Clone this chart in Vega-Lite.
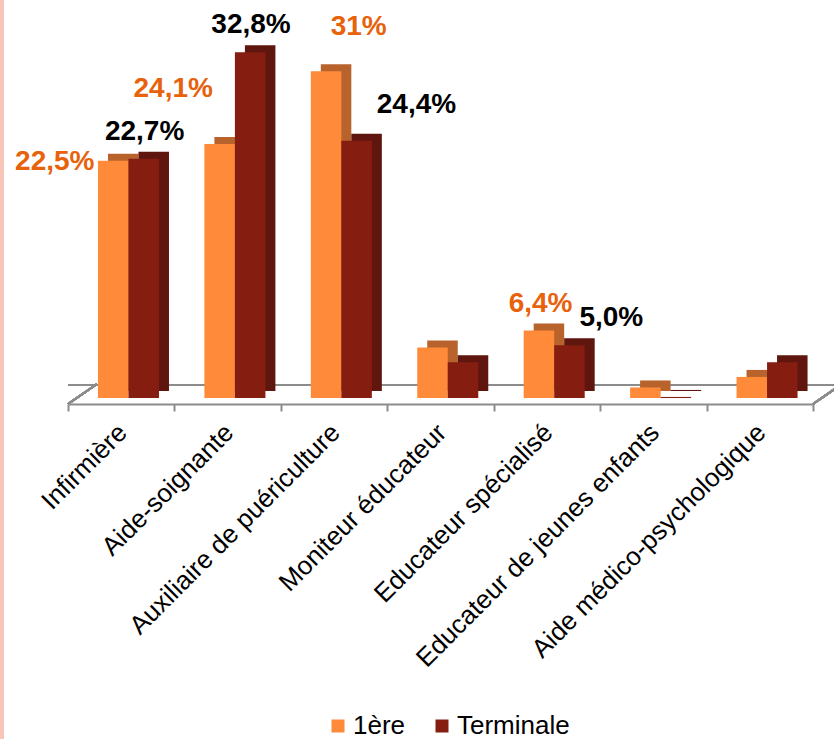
{
  "$schema": "https://vega.github.io/schema/vega-lite/v6.json",
  "autosize": "none",
  "width": 745,
  "height": 369,
  "padding": {"left": 68, "top": 29, "right": 21, "bottom": 341},
  "background": "white",
  "config": {"view": {"stroke": null}, "font": "Liberation Sans"},
  "data": {"values": [
    {"cat": "Infirmière", "series": "1ère", "value": 22.5, "label": "22,5%"},
    {"cat": "Infirmière", "series": "Terminale", "value": 22.7, "label": "22,7%"},
    {"cat": "Aide-soignante", "series": "1ère", "value": 24.1, "label": "24,1%"},
    {"cat": "Aide-soignante", "series": "Terminale", "value": 32.8, "label": "32,8%"},
    {"cat": "Auxiliaire de puériculture", "series": "1ère", "value": 31.0, "label": "31%"},
    {"cat": "Auxiliaire de puériculture", "series": "Terminale", "value": 24.4, "label": "24,4%"},
    {"cat": "Moniteur éducateur", "series": "1ère", "value": 4.8, "label": ""},
    {"cat": "Moniteur éducateur", "series": "Terminale", "value": 3.4, "label": ""},
    {"cat": "Educateur spécialisé", "series": "1ère", "value": 6.4, "label": "6,4%"},
    {"cat": "Educateur spécialisé", "series": "Terminale", "value": 5.0, "label": "5,0%"},
    {"cat": "Educateur de jeunes enfants", "series": "1ère", "value": 1.0, "label": ""},
    {"cat": "Educateur de jeunes enfants", "series": "Terminale", "value": 0.1, "label": ""},
    {"cat": "Aide médico-psychologique", "series": "1ère", "value": 2.0, "label": ""},
    {"cat": "Aide médico-psychologique", "series": "Terminale", "value": 3.4, "label": ""}
  ]},
  "encoding": {
    "x": {"field": "cat", "type": "nominal", "sort": null,
      "scale": {"domain": ["Infirmière", "Aide-soignante", "Auxiliaire de puériculture", "Moniteur éducateur", "Educateur spécialisé", "Educateur de jeunes enfants", "Aide médico-psychologique"], "paddingInner": 0, "paddingOuter": 0},
      "axis": {"title": null, "labelAngle": -45, "labelFontSize": 26, "labelFont": "Liberation Sans", "labelColor": "#000000",
        "domainColor": "#8C8C8C", "domainWidth": 2, "tickColor": "#8C8C8C", "tickWidth": 2, "tickSize": 7,
        "tickBand": "extent", "offset": 6, "labelPadding": 8, "labelOffset": -8, "labelLimit": 0}},
    "y": {"field": "value", "type": "quantitative", "scale": {"domain": [0, 35], "nice": false}, "axis": null}
  },
  "resolve": {"scale": {"xOffset": "independent"}},
  "layer": [
    {
      "mark": {"type": "rule", "color": "#8C8C8C", "strokeWidth": 2, "yOffset": -13, "y2Offset": -13, "xOffset": 29, "x2Offset": 29},
      "encoding": {"x": null, "y": {"datum": 0}}
    },
    {
      "mark": {"type": "rule", "color": "#8C8C8C", "strokeWidth": 2, "yOffset": 6, "y2Offset": -14, "x2Offset": 29},
      "encoding": {"x": {"datum": "Infirmière", "bandPosition": 0}, "x2": {"datum": "Infirmière", "bandPosition": 0}, "y": {"datum": 0}, "y2": {"datum": 0}}
    },
    {
      "mark": {"type": "rule", "color": "#8C8C8C", "strokeWidth": 2, "yOffset": 6, "y2Offset": -14, "x2Offset": 29},
      "encoding": {"x": {"datum": "Aide médico-psychologique", "bandPosition": 1}, "x2": {"datum": "Aide médico-psychologique", "bandPosition": 1}, "y": {"datum": 0}, "y2": {"datum": 0}}
    },
    {
      "mark": {"type": "rule", "color": "#F8C6B8", "strokeWidth": 4, "xOffset": -66},
      "encoding": {"x": {"datum": "Infirmière", "bandPosition": 0}, "y": {"datum": 38}, "y2": {"datum": -33}}
    },
    {
      "mark": {"type": "bar", "yOffset": -7, "y2Offset": -7},
      "encoding": {
        "xOffset": {"field": "series", "type": "nominal", "scale": {"domain": ["1ère", "Terminale"], "paddingOuter": 0.744, "paddingInner": 0, "align": 0.88}},
        "fill": {"condition": {"test": "datum.series === '1ère'", "value": "#B9632C"}, "value": "#5E160E"}
      }
    },
    {
      "mark": {"type": "bar"},
      "encoding": {
        "xOffset": {"field": "series", "type": "nominal", "scale": {"domain": ["1ère", "Terminale"], "paddingOuter": 0.744, "paddingInner": 0, "align": 0.66}},
        "color": {"field": "series", "type": "nominal",
          "scale": {"domain": ["1ère", "Terminale"], "range": ["#FE8A3A", "#861D11"]},
          "legend": {"title": null, "orient": "none", "legendX": 257, "legendY": 684, "direction": "horizontal",
            "symbolType": "square", "symbolSize": 169, "symbolStrokeWidth": 0, "labelFontSize": 26, "labelFont": "Liberation Sans",
            "labelColor": "#000000", "labelOffset": 2, "columnPadding": 23}}
      }
    },
    {
      "transform": [{"filter": "(datum.cat === 'Infirmière' && datum.series === 'Terminale') || (datum.cat === 'Aide-soignante' && datum.series === 'Terminale')"}],
      "mark": {"type": "text", "fontSize": 28, "fontWeight": "bold", "font": "Liberation Sans", "baseline": "middle", "align": "center", "dx": 2, "dy": -27, "fill": "#000000"},
      "encoding": {"xOffset": {"field": "series", "type": "nominal", "scale": {"domain": ["1ère", "Terminale"], "paddingOuter": 0.744, "paddingInner": 0}}, "text": {"field": "label"}}
    },
    {
      "transform": [{"filter": "datum.cat === 'Educateur spécialisé' && datum.series === '1ère'"}],
      "mark": {"type": "text", "fontSize": 28, "fontWeight": "bold", "font": "Liberation Sans", "baseline": "middle", "align": "center", "dx": 15, "dy": -27, "fill": "#E8620C"},
      "encoding": {"xOffset": {"field": "series", "type": "nominal", "scale": {"domain": ["1ère", "Terminale"], "paddingOuter": 0.744, "paddingInner": 0}}, "text": {"field": "label"}}
    },
    {
      "transform": [{"filter": "datum.cat === 'Infirmière' && datum.series === '1ère'"}],
      "mark": {"type": "text", "fontSize": 28, "fontWeight": "bold", "font": "Liberation Sans", "baseline": "middle", "align": "center", "dx": -45, "dy": 1, "fill": "#E8620C"},
      "encoding": {"xOffset": {"field": "series", "type": "nominal", "scale": {"domain": ["1ère", "Terminale"], "paddingOuter": 0.744, "paddingInner": 0}}, "text": {"field": "label"}}
    },
    {
      "transform": [{"filter": "datum.cat === 'Aide-soignante' && datum.series === '1ère'"}],
      "mark": {"type": "text", "fontSize": 28, "fontWeight": "bold", "font": "Liberation Sans", "baseline": "middle", "align": "center", "dx": -33, "dy": -55, "fill": "#E8620C"},
      "encoding": {"xOffset": {"field": "series", "type": "nominal", "scale": {"domain": ["1ère", "Terminale"], "paddingOuter": 0.744, "paddingInner": 0}}, "text": {"field": "label"}}
    },
    {
      "transform": [{"filter": "datum.cat === 'Auxiliaire de puériculture' && datum.series === '1ère'"}],
      "mark": {"type": "text", "fontSize": 28, "fontWeight": "bold", "font": "Liberation Sans", "baseline": "middle", "align": "center", "dx": 46, "dy": -44, "fill": "#E8620C"},
      "encoding": {"xOffset": {"field": "series", "type": "nominal", "scale": {"domain": ["1ère", "Terminale"], "paddingOuter": 0.744, "paddingInner": 0}}, "text": {"field": "label"}}
    },
    {
      "transform": [{"filter": "datum.cat === 'Auxiliaire de puériculture' && datum.series === 'Terminale'"}],
      "mark": {"type": "text", "fontSize": 28, "fontWeight": "bold", "font": "Liberation Sans", "baseline": "middle", "align": "center", "dx": 61, "dy": -36, "fill": "#000000"},
      "encoding": {"xOffset": {"field": "series", "type": "nominal", "scale": {"domain": ["1ère", "Terminale"], "paddingOuter": 0.744, "paddingInner": 0}}, "text": {"field": "label"}}
    },
    {
      "transform": [{"filter": "datum.cat === 'Educateur spécialisé' && datum.series === 'Terminale'"}],
      "mark": {"type": "text", "fontSize": 28, "fontWeight": "bold", "font": "Liberation Sans", "baseline": "middle", "align": "center", "dx": 43, "dy": -27, "fill": "#000000"},
      "encoding": {"xOffset": {"field": "series", "type": "nominal", "scale": {"domain": ["1ère", "Terminale"], "paddingOuter": 0.744, "paddingInner": 0}}, "text": {"field": "label"}}
    }
  ]
}
